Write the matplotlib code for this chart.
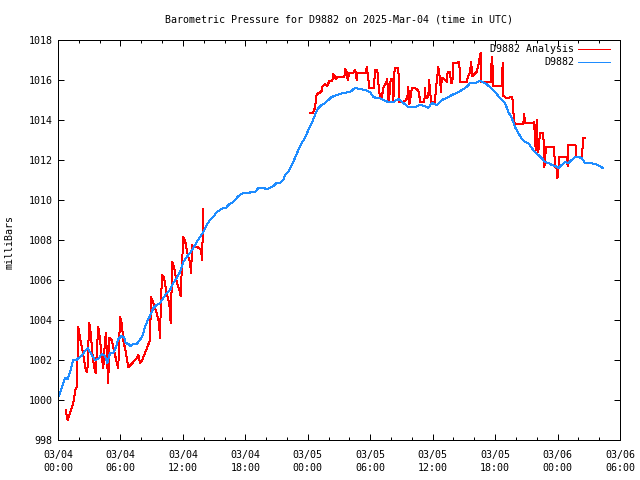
import matplotlib
matplotlib.use("Agg")
import matplotlib.pyplot as plt
from matplotlib.lines import Line2D
from matplotlib.ticker import MultipleLocator

# ---- data (hours since 2025-03-04 00:00 UTC, millibars) ----
station_hours = [0.0, 0.36, 0.67, 0.93, 1.15, 1.47, 1.80, 1.95, 2.28, 2.53, 2.85, 3.07, 3.30, 3.56, 3.87,
                 4.20, 4.52, 4.74, 5.00, 5.31, 5.57, 5.79, 6.12, 6.34, 6.51, 6.76, 6.95, 7.24, 7.56, 7.88,
                 8.14, 8.36, 8.62, 8.84, 9.16, 9.48, 9.80, 10.12, 10.44, 10.76, 11.08, 11.41, 11.72, 12.04,
                 12.37, 12.68, 13.00, 13.33, 13.64, 13.96, 14.29, 14.61, 14.92, 15.25, 15.57, 15.88, 16.14,
                 16.36, 16.69, 17.01, 17.33, 17.81, 18.29, 18.61, 18.93, 19.25, 19.73, 20.05, 20.37, 20.69,
                 21.01, 21.33, 21.65, 21.81, 22.13, 22.46, 22.77, 23.09, 23.42, 23.73, 24.05, 24.38, 24.69,
                 25.01, 25.34, 25.66, 25.97, 26.30, 26.78, 27.41, 28.06, 28.54, 29.02, 29.50, 29.98, 30.30,
                 30.62, 30.94, 31.26, 31.74, 32.22, 32.70, 33.18, 33.66, 34.30, 34.78, 35.26, 35.58, 35.91,
                 36.39, 36.87, 37.35, 37.83, 38.31, 38.79, 39.27, 39.59, 40.07, 40.55, 41.03, 41.51, 41.99,
                 42.47, 42.95, 43.27, 43.60, 43.91, 44.23, 44.56, 44.87, 45.19, 45.52, 45.83, 46.15, 46.48,
                 46.79, 47.11, 47.44, 47.76, 48.07, 48.40, 48.72, 49.03, 49.36, 49.68, 49.99, 50.32, 50.64,
                 51.12, 51.60, 52.08, 52.34]
station_mb = [1000.1, 1000.6, 1001.1, 1001.05, 1001.4, 1002.0, 1002.0, 1002.1, 1002.2, 1002.4, 1002.6, 1002.4,
              1002.2, 1002.0, 1002.05, 1002.3, 1002.2, 1001.85, 1002.35, 1002.35, 1002.65, 1003.05, 1003.2,
              1003.15, 1002.85, 1002.8, 1002.7, 1002.8, 1002.8, 1003.0, 1003.25, 1003.65, 1004.0, 1004.2,
              1004.6, 1004.75, 1004.85, 1005.1, 1005.35, 1005.5, 1005.85, 1006.1, 1006.4, 1006.9, 1007.15,
              1007.35, 1007.6, 1007.9, 1008.15, 1008.4, 1008.75, 1009.0, 1009.15, 1009.4, 1009.5, 1009.6,
              1009.6, 1009.75, 1009.85, 1010.0, 1010.2, 1010.35, 1010.35, 1010.4, 1010.4, 1010.6, 1010.6,
              1010.55, 1010.6, 1010.7, 1010.85, 1010.85, 1011.0, 1011.25, 1011.4, 1011.75, 1012.1, 1012.5,
              1012.85, 1013.1, 1013.5, 1013.85, 1014.25, 1014.6, 1014.75, 1014.85, 1015.0, 1015.15, 1015.25,
              1015.35, 1015.4, 1015.6, 1015.55, 1015.5, 1015.4, 1015.15, 1015.1, 1015.1, 1015.0, 1014.9,
              1014.9, 1015.05, 1014.85, 1014.65, 1014.65, 1014.75, 1014.7, 1014.6, 1014.85, 1014.75, 1015.0,
              1015.1, 1015.25, 1015.35, 1015.5, 1015.65, 1015.85, 1015.85, 1015.95, 1015.85, 1015.65, 1015.4,
              1015.1, 1014.85, 1014.4, 1014.1, 1013.65, 1013.35, 1013.05, 1012.9, 1012.85, 1012.6, 1012.4,
              1012.25, 1012.1, 1011.9, 1011.85, 1011.75, 1011.7, 1011.6, 1011.75, 1011.9, 1011.85, 1012.0,
              1012.15, 1012.15, 1012.1, 1011.85, 1011.85, 1011.8, 1011.7, 1011.6]

analysis1_hours = [0.74, 0.93, 1.15, 1.47, 1.70, 1.80, 1.89, 1.95, 2.11, 2.28, 2.43, 2.66, 2.82, 2.91, 3.01,
                   3.14, 3.33, 3.49, 3.62, 3.81, 3.87, 4.04, 4.20, 4.35, 4.52, 4.61, 4.74, 4.83, 4.93, 5.16,
                   5.41, 5.64, 5.79, 5.96, 6.12, 6.27, 6.51, 6.76, 7.24, 7.56, 7.72, 7.88, 8.10, 8.36, 8.62,
                   8.84, 8.94, 9.16, 9.48, 9.71, 9.80, 9.90, 10.02, 10.19, 10.44, 10.69, 10.83, 10.93, 10.98,
                   11.15, 11.41, 11.66, 11.79, 11.89, 12.04, 12.20, 12.37, 12.52, 12.68, 12.78, 12.90, 13.10,
                   13.33, 13.58, 13.74, 13.84, 13.91, 13.96]
analysis1_mb = [999.5, 999.0, 999.35, 999.85, 1000.6, 1000.65, 1002.4, 1003.65, 1003.15, 1002.65, 1002.25,
                1001.5, 1001.4, 1002.75, 1003.85, 1003.35, 1002.2, 1001.6, 1001.35, 1003.15, 1003.65, 1003.0,
                1002.15, 1001.6, 1003.0, 1003.35, 1001.75, 1000.85, 1003.1, 1003.0, 1002.4, 1001.9, 1001.6,
                1004.15, 1003.85, 1003.0, 1002.4, 1001.65, 1001.9, 1002.1, 1002.25, 1001.85, 1002.0, 1002.35,
                1002.7, 1003.0, 1005.15, 1004.85, 1004.35, 1003.85, 1003.1, 1005.15, 1006.25, 1006.1, 1005.35,
                1004.85, 1003.85, 1005.85, 1006.9, 1006.65, 1005.9, 1005.5, 1005.2, 1006.5, 1008.15, 1008.0,
                1007.5, 1007.15, 1006.9, 1006.35, 1007.75, 1007.65, 1007.65, 1007.6, 1007.5, 1007.0, 1008.35,
                1009.55]

analysis2_hours = [24.17, 24.47, 24.69, 24.86, 25.11, 25.34, 25.43, 25.66, 25.88, 26.07, 26.36, 26.45, 26.62,
                   26.71, 26.84, 27.51, 27.61, 27.74, 27.84, 27.99, 28.38, 28.54, 28.63, 28.70, 28.76, 29.60,
                   29.66, 29.82, 29.88, 30.36, 30.46, 30.68, 30.82, 30.94, 31.10, 31.26, 31.52, 31.64, 31.74,
                   31.83, 31.97, 32.16, 32.22, 32.31, 32.38, 32.70, 32.80, 33.03, 33.34, 33.56, 33.66, 33.76,
                   33.92, 33.99, 34.30, 34.56, 34.69, 34.78, 35.20, 35.26, 35.33, 35.58, 35.65, 35.74, 35.84,
                   36.22, 36.32, 36.54, 36.70, 36.80, 36.87, 37.02, 37.19, 37.35, 37.44, 37.67, 37.76, 37.89,
                   37.98, 38.31, 38.56, 38.63, 39.27, 39.37, 39.59, 39.69, 39.81, 40.23, 40.45, 40.60, 40.69,
                   41.60, 41.67, 41.73, 41.80, 42.63, 42.73, 42.80, 43.11, 43.59, 43.69, 43.75, 43.82, 44.00,
                   44.71, 44.80, 44.87, 45.61, 45.74, 45.83, 45.90, 45.99, 46.09, 46.15, 46.31, 46.63, 46.73,
                   46.89, 47.66, 47.76, 47.92, 47.99, 48.07, 48.17, 48.88, 48.97, 49.05, 49.72, 49.82, 50.35,
                   50.45, 50.64]
analysis2_mb = [1014.35, 1014.35, 1014.6, 1015.3, 1015.35, 1015.45, 1015.7, 1015.8, 1015.7, 1015.95, 1015.95,
                1016.3, 1016.15, 1016.05, 1016.15, 1016.15, 1016.55, 1016.4, 1016.0, 1016.35, 1016.35, 1016.5,
                1016.35, 1016.0, 1016.35, 1016.35, 1016.65, 1016.1, 1015.6, 1015.6, 1016.5, 1016.5, 1015.65,
                1015.1, 1015.1, 1015.6, 1015.85, 1016.05, 1014.9, 1015.1, 1016.05, 1016.05, 1014.9, 1016.35,
                1016.6, 1016.6, 1014.9, 1014.9, 1014.95, 1015.1, 1015.65, 1014.8, 1015.25, 1015.6, 1015.6,
                1015.5, 1015.4, 1014.9, 1014.9, 1015.6, 1015.1, 1015.15, 1016.0, 1015.6, 1014.9, 1014.9,
                1015.6, 1016.65, 1016.1, 1015.4, 1016.1, 1016.1, 1016.0, 1015.9, 1016.4, 1016.4, 1015.85,
                1015.85, 1016.85, 1016.85, 1016.9, 1015.9, 1015.9, 1016.15, 1016.4, 1016.9, 1016.2, 1016.4,
                1016.9, 1017.35, 1015.9, 1015.9, 1017.1, 1017.15, 1015.7, 1015.7, 1016.85, 1015.2, 1015.1,
                1015.15, 1015.0, 1014.5, 1013.85, 1013.8, 1013.8, 1014.3, 1013.85, 1013.85, 1013.9, 1013.15,
                1012.5, 1014.0, 1012.85, 1012.4, 1013.35, 1013.35, 1011.65, 1012.65, 1012.65, 1011.65, 1011.6,
                1011.1, 1011.4, 1012.15, 1012.15, 1011.7, 1012.75, 1012.75, 1012.15, 1012.15, 1013.1, 1013.1]

x_tick_hours = [0, 6, 12, 18, 24, 30, 36, 42, 48, 54]
x_tick_labels = ["03/04\n00:00", "03/04\n06:00", "03/04\n12:00", "03/04\n18:00", "03/05\n00:00",
                 "03/05\n06:00", "03/05\n12:00", "03/05\n18:00", "03/06\n00:00", "03/06\n06:00"]
y_ticks = [998, 1000, 1002, 1004, 1006, 1008, 1010, 1012, 1014, 1016, 1018]

title = "Barometric Pressure for D9882 on 2025-Mar-04 (time in UTC)"
series_names = ["D9882 Analysis", "D9882"]
RED = "#ff0000"
BLUE = "#1e8cff"
FONT = "DejaVu Sans Mono"
FS = 7.2
LW = 0.72  # one pixel at 100 dpi

plt.rcParams['font.family'] = FONT
fig = plt.figure(figsize=(6.4, 4.8), dpi=100)
ax = fig.add_axes([58/640, 40/480, 562/640, 400/480])

ax.plot(analysis1_hours, analysis1_mb, color=RED, lw=LW, antialiased=False)
ax.plot(analysis2_hours, analysis2_mb, color=RED, lw=LW, antialiased=False)
ax.plot(station_hours, station_mb, color=BLUE, lw=LW, antialiased=False)

ax.set_xlim(0, 54)
ax.set_ylim(998, 1018)
ax.set_xticks(x_tick_hours)
ax.set_xticklabels(x_tick_labels, fontsize=FS, linespacing=1.35)
ax.xaxis.set_minor_locator(MultipleLocator(2))
ax.set_yticks(y_ticks)
ax.set_yticklabels([str(v) for v in y_ticks], fontsize=FS)
ax.tick_params(which='both', direction='in', top=True, right=True, color='black', width=LW)
ax.tick_params(which='major', length=4.5)
ax.tick_params(which='minor', length=2.5)
ax.tick_params(axis='x', which='major', pad=7)
ax.tick_params(axis='y', which='major', pad=4)
for s in ax.spines.values():
    s.set_linewidth(LW)
    s.set_color('black')
    s.set_antialiased(False)

fig.text(339/640, 1 - 19/480, title, ha='center', va='center', fontsize=FS)
fig.text(10/640, 1 - 242/480, "milliBars", rotation=90, ha='center', va='center', fontsize=FS)

# legend (upper right, gnuplot style)
for i, (name, col) in enumerate(zip(series_names, [RED, BLUE])):
    yy = 1 - (49 + 13*i)/480
    fig.text(574/640, yy, name, ha='right', va='center', fontsize=FS)
    fig.add_artist(Line2D([578/640, 610/640], [yy, yy], color=col, lw=LW,
                          antialiased=False, transform=fig.transFigure))

fig.savefig("out.png", dpi=100)
